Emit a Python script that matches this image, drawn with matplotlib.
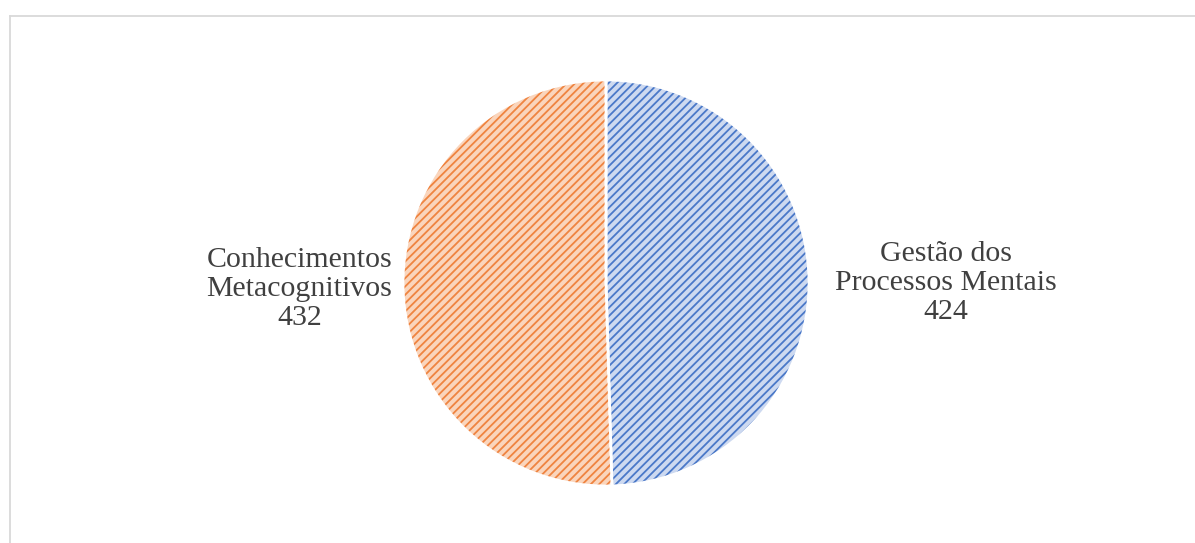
import matplotlib
matplotlib.use("Agg")
import matplotlib.pyplot as plt
import matplotlib.patches as mpatches
from matplotlib.lines import Line2D

labels = ["Gestão dos\nProcessos Mentais", "Conhecimentos\nMetacognitivos"]
values = [424, 432]
faces = ["#cdd9f0", "#fad5bc"]
hatch_colors = ["#4a78c8", "#ef8440"]

plt.rcParams["font.family"] = ["Liberation Serif", "DejaVu Serif"]
plt.rcParams["hatch.linewidth"] = 1.3

fig = plt.figure(figsize=(11.95, 5.43), dpi=100)
fig.patch.set_facecolor("white")

# light gray chart frame (top and left only visible)
fig.add_artist(Line2D([9.5 / 1195, 1.0], [1 - 15.5 / 543] * 2, color="#d9d9d9", lw=1.3))
fig.add_artist(Line2D([9.5 / 1195] * 2, [0.0, 1 - 15.5 / 543], color="#d9d9d9", lw=1.3))

ax = fig.add_axes([403 / 1195, 57 / 543, 406 / 1195, 406 / 543])
wedges, _ = ax.pie(values, startangle=90, counterclock=False, radius=1.0,
                   colors=faces, wedgeprops=dict(edgecolor="none", linewidth=0))
ax.set_xlim(-1, 1)
ax.set_ylim(-1, 1)
ax.set_aspect("equal")

# hatched overlays so the hatch gets its own colour, then white separators
for w, hc in zip(wedges, hatch_colors):
    ax.add_patch(mpatches.Wedge(w.center, w.r, w.theta1, w.theta2, facecolor="none",
                                edgecolor=hc, hatch="////", linewidth=0))
    ax.add_patch(mpatches.Wedge(w.center, w.r, w.theta1, w.theta2, facecolor="none",
                                edgecolor="white", linewidth=2))

# data labels
pos = [(1.675, 0.0), (-1.51, -0.03)]
for (x, y), lab, v in zip(pos, labels, values):
    ax.text(x, y, f"{lab}\n{v}", ha="center", va="center", fontsize=21.5,
            color="#404040", linespacing=1.15, clip_on=False)

fig.savefig("out.png", dpi=100)
